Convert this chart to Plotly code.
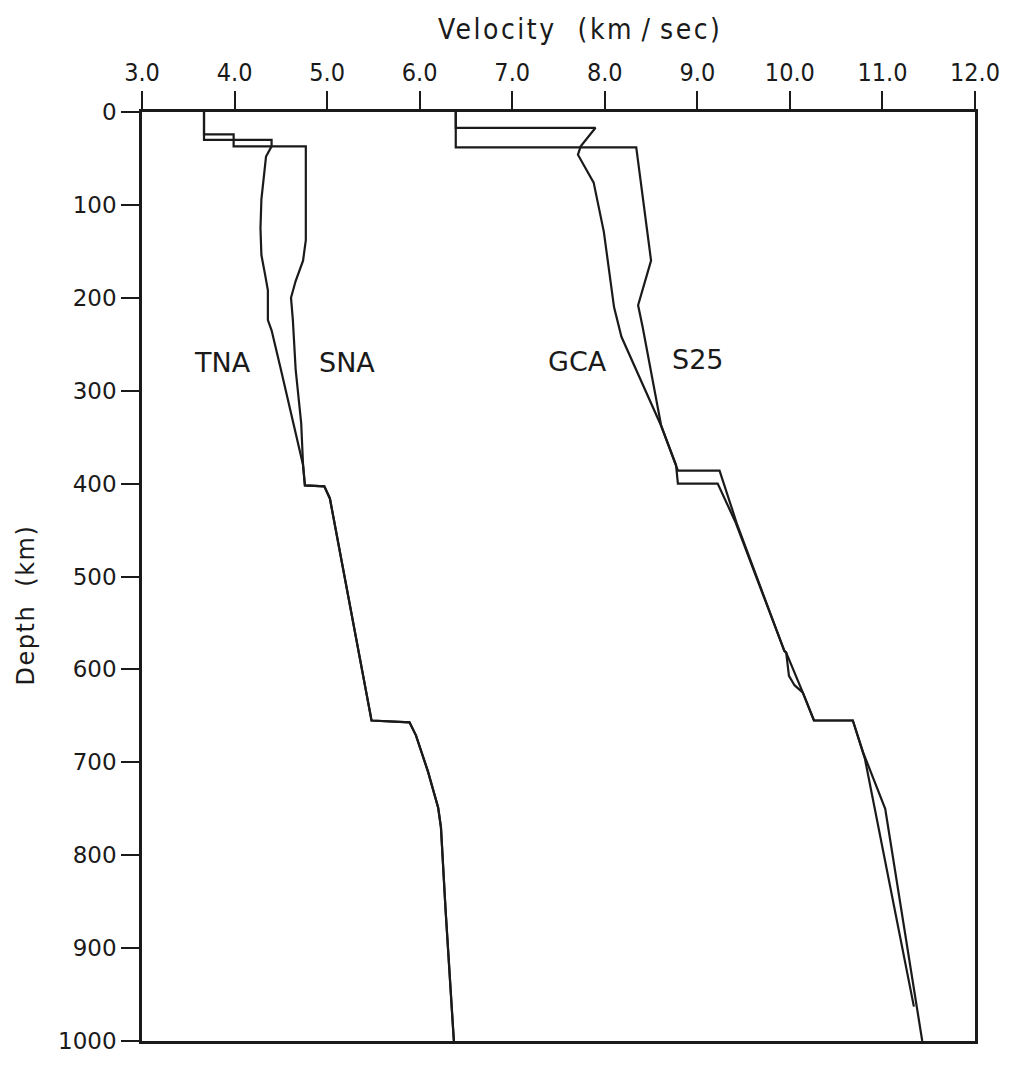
import plotly.graph_objects as go

# ---- data (velocity km/s, depth km) ----
tna_v = [3.67, 3.67, 3.99, 3.99, 4.40, 4.40, 4.34, 4.31, 4.29, 4.28, 4.29, 4.33, 4.36, 4.36, 4.40, 4.50,
         4.74, 4.76, 4.97, 5.03, 5.48, 5.89, 5.96, 6.09, 6.20, 6.23, 6.28, 6.36, 6.37]
tna_d = [0, 24, 24, 30, 30, 37, 48, 72, 94, 125, 154, 175, 192, 224, 235, 277,
         380, 402, 403, 416, 655, 657, 671, 710, 749, 770, 859, 986, 1000]

sna_v = [3.67, 3.67, 3.99, 3.99, 4.77, 4.77, 4.74, 4.66, 4.61, 4.63, 4.66, 4.72,
         4.74, 4.76, 4.97, 5.03, 5.48, 5.89, 5.96, 6.09, 6.20, 6.23, 6.28, 6.36, 6.37]
sna_d = [0, 30, 30, 37, 37, 138, 160, 182, 200, 224, 277, 335,
         380, 402, 403, 416, 655, 657, 671, 710, 749, 770, 859, 986, 1000]

gca_v = [6.39, 6.39, 7.90, 7.74, 7.71, 7.78, 7.88, 7.99, 8.10, 8.18, 8.61, 8.77, 8.79, 9.22,
         9.41, 9.94, 9.96, 10.14, 10.26, 10.68, 10.79, 11.03, 11.40, 11.43]
gca_d = [0, 17, 17, 37, 46, 58, 76, 129, 210, 242, 338, 380, 400, 400,
         441, 580, 582, 625, 655, 655, 689, 750, 986, 1000]

s25_v = [6.39, 6.39, 8.34, 8.50, 8.36, 8.41, 8.61, 8.77, 8.79, 9.24,
         9.43, 9.94, 9.96, 9.99, 10.05, 10.14, 10.26, 10.68, 10.79, 10.81, 11.34]
s25_d = [0, 38, 38, 160, 208, 232, 338, 380, 386, 386,
         444, 580, 582, 607, 617, 625, 655, 655, 689, 696, 963]

curve_labels = ["TNA", "SNA", "GCA", "S25"]
label_v = [3.87, 5.21, 7.71, 9.01]
label_d = [270, 270, 269, 266]

x_ticks = [3, 4, 5, 6, 7, 8, 9, 10, 11, 12]
x_ticktext = ["3.0", "4.0", "5.0", "6.0", "7.0", "8.0", "9.0", "10.0", "11.0", "12.0"]
y_ticks = [0, 100, 200, 300, 400, 500, 600, 700, 800, 900, 1000]

INK = "#1a1a1a"

fig = go.Figure()
for v, d in [(tna_v, tna_d), (sna_v, sna_d), (gca_v, gca_d), (s25_v, s25_d)]:
    fig.add_trace(go.Scatter(x=v, y=d, mode="lines",
                             line=dict(color=INK, width=2.2),
                             showlegend=False, hoverinfo="skip"))

for t, v, d in zip(curve_labels, label_v, label_d):
    fig.add_annotation(x=v, y=d, xref="x", yref="y", text=t, showarrow=False,
                       font=dict(family="DejaVu Sans", size=27, color=INK),
                       xanchor="center", yanchor="middle")

fig.add_annotation(x=0.526, y=1.089, xref="paper", yref="paper",
                   text='<span style="letter-spacing:2.5px">Velocity\u00a0 (km\u2009/\u2009sec)</span>',
                   showarrow=False,
                   font=dict(family="DejaVu Sans Condensed, DejaVu Sans", size=28, color=INK),
                   xanchor="center", yanchor="middle")
fig.add_annotation(x=-0.139, y=0.469, xref="paper", yref="paper",
                   text='<span style="letter-spacing:1.5px">Depth\u00a0 (km)</span>',
                   showarrow=False, textangle=-90,
                   font=dict(family="DejaVu Sans", size=24, color=INK),
                   xanchor="center", yanchor="middle")

fig.update_layout(
    width=1012, height=1066,
    margin=dict(l=142, r=26, t=112, b=13, pad=0),
    paper_bgcolor="white", plot_bgcolor="white",
    xaxis=dict(range=[3, 12], side="top", tickvals=x_ticks, ticktext=x_ticktext,
               ticks="outside", ticklen=18, tickwidth=2, tickcolor=INK,
               showline=True, linewidth=2.5, linecolor=INK, mirror=True,
               showgrid=False, zeroline=False,
               tickfont=dict(family="DejaVu Sans Condensed, DejaVu Sans", size=25, color=INK)),
    yaxis=dict(range=[1000, 0], tickvals=y_ticks,
               ticks="outside", ticklen=18, tickwidth=2, tickcolor=INK,
               showline=True, linewidth=2.5, linecolor=INK, mirror=True,
               showgrid=False, zeroline=False,
               tickfont=dict(family="DejaVu Sans", size=23, color=INK)),
)

fig.write_html("out.html")
